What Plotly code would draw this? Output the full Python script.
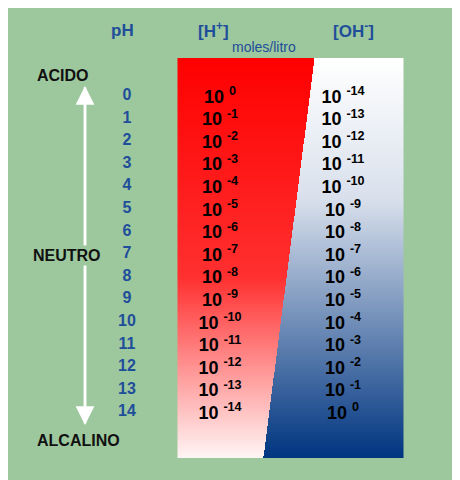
import numpy as np
import plotly.graph_objects as go

ph_values = list(range(15))
h_exponents = [str(-v) if v else "0" for v in ph_values]
oh_exponents = [str(v - 14) if v != 14 else "0" for v in ph_values]
side_labels = ["ACIDO", "NEUTRO", "ALCALINO"]

# panel in pixel coordinates
left, right, top, bottom = 178, 403, 59, 457
xs = np.linspace(left, right, 226)
ys = np.linspace(top, bottom, 200)
X, Y = np.meshgrid(xs, ys)
t = (Y - top) / (bottom - top)
xb = 314 + (263 - 314) * t
z_red = np.where(X < xb, t, np.nan)
z_blue = np.where(X >= xb, t, np.nan)

fig = go.Figure()
fig.add_trace(go.Heatmap(x=xs, y=ys, z=z_red, showscale=False, hoverinfo="skip",
                         colorscale=[[0, "#ff0000"], [0.55, "#ff3030"], [1, "#fff4f4"]], zmin=0, zmax=1))
fig.add_trace(go.Heatmap(x=xs, y=ys, z=z_blue, showscale=False, hoverinfo="skip",
                         colorscale=[[0, "#ffffff"], [0.35, "#d9e0ec"], [1, "#003580"]], zmin=0, zmax=1))

y0, dy = 96, 22.6
row_y = [y0 + i * dy for i in ph_values]
fig.add_trace(go.Scatter(x=[127] * 15, y=row_y, mode="text", text=[f"<b>{v}</b>" for v in ph_values],
                         textfont=dict(size=16, color="#1f4e9a", family="Liberation Sans"), hoverinfo="skip"))
fig.add_trace(go.Scatter(x=[220] * 15, y=[r + 2 for r in row_y], mode="text",
                         text=[f"<b>10 <sup>{e}</sup></b>" for e in h_exponents],
                         textfont=dict(size=18, color="black", family="Liberation Sans"), hoverinfo="skip"))
fig.add_trace(go.Scatter(x=[343] * 15, y=[r + 2 for r in row_y], mode="text",
                         text=[f"<b>10 <sup>{e}</sup></b>" for e in oh_exponents],
                         textfont=dict(size=18, color="black", family="Liberation Sans"), hoverinfo="skip"))

# double arrow
fig.add_annotation(x=85, y=86, ax=85, ay=425, xref="x", yref="y", axref="x", ayref="y",
                   showarrow=True, arrowhead=2, arrowsize=1.5, arrowwidth=2.5, arrowcolor="white", text="")
fig.add_annotation(x=85, y=425, ax=85, ay=86, xref="x", yref="y", axref="x", ayref="y",
                   showarrow=True, arrowhead=2, arrowsize=1.5, arrowwidth=2.5, arrowcolor="white", text="")

for lab, (x, y) in zip(side_labels, [(63, 75), (67, 255), (78, 440)]):
    fig.add_annotation(x=x, y=y, text=f"<b>{lab}</b>", showarrow=False, bgcolor="#9dc89d",
                       font=dict(size=16, color="#111", family="Liberation Sans"))
for lab, x, y in [("<b>pH</b>", 122, 30), ("<b>[H<sup>+</sup>]</b>", 213, 30),
                  ("moles/litro", 264, 47), ("<b>[OH<sup>-</sup>]</b>", 353, 30)]:
    fig.add_annotation(x=x, y=y, text=lab, showarrow=False,
                       font=dict(size=17 if "litro" not in lab else 14, color="#1f4e9a", family="Liberation Sans"))

# the page adds an 8px offset, so the ranges are shifted to compensate
fig.update_layout(width=460, height=480, margin=dict(l=0, r=0, t=0, b=0),
                  paper_bgcolor="#9dc89d", plot_bgcolor="#9dc89d", showlegend=False,
                  xaxis=dict(range=[8, 468], visible=False),
                  yaxis=dict(range=[488, 8], visible=False))
fig.write_html("out.html")
